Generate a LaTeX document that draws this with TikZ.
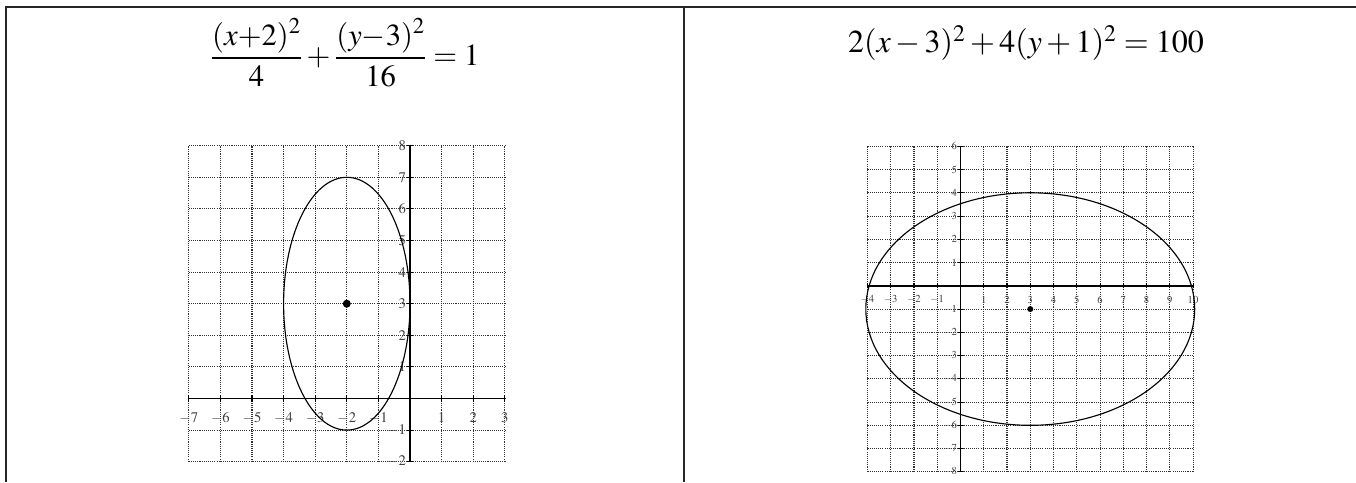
\documentclass[tikz,border=0pt]{standalone}
\usepackage{mathptmx}
\usetikzlibrary{positioning}
\tikzset{
    gridline/.style={line width=0.8pt, black!80, dash pattern=on 0.8pt off 0.8pt},
    axisline/.style={line width=1.1pt},
    tickmark/.style={line width=0.8pt},
    curve/.style={line width=0.85pt},
    tablerule/.style={line width=0.9pt, black!85},
    bigtick/.style={font=\fontsize{11}{12}\selectfont, text=black!75, inner sep=1pt},
    smalltick/.style={font=\fontsize{8}{9}\selectfont, text=black!75, inner sep=1pt},
    formula/.style={font=\fontsize{23}{27}\selectfont, inner sep=0pt},
    centerdot/.style={circle, fill, inner sep=0pt},
}

\begin{document}
\begin{tikzpicture}[x=0.75pt, y=0.75pt]
    \useasboundingbox (0,0) rectangle (1356,482);

    % table rules
    \coordinate (tl) at (6,475);
    \coordinate (bl) at (6,0);
    \coordinate (tr) at (1356,475);
    \coordinate (mt) at (684,475);
    \coordinate (mb) at (684,0);
    \draw[tablerule] (bl) -- (tl) -- (tr);
    \draw[tablerule] (mt) -- (mb);

    % equations
    \node[formula] (eqleft) at (345,429)
        {$\displaystyle\frac{(x{+}2)^2}{4}+\frac{(y{-}3)^2}{16}=1$};
    \node[formula, anchor=base, font=\fontsize{24}{28}\selectfont] (eqright) at (1026,429)
        {$2(x-3)^2+4(y+1)^2=100$};

    % left graph
    \begin{scope}[shift={(410,83.5)}, x=23.7pt, y=23.7pt]
        \foreach \i in {-7,...,3}
            \draw[gridline] (\i,-2) -- (\i,8);
        \foreach \j in {-2,...,8}
            \draw[gridline] (-7,\j) -- (3,\j);
        \draw[axisline] (-7,0) -- (3,0);
        \draw[axisline] (0,-2) -- (0,8);
        \foreach \i in {-7,...,3}
            \draw[tickmark] (\i,-0.1) -- (\i,0.1);
        \foreach \j in {-2,...,8}
            \draw[tickmark] (-0.1,\j) -- (0.1,\j);
        \foreach \i in {-7,...,-1,1,2,3}
            \node[bigtick] (lx\i) at (\i,-0.62) {$\i$};
        \foreach \j in {-2,-1,1,2,3,4,5,6,7,8}
            \node[bigtick, anchor=east] (ly\j) at (-0.08,\j) {$\j$};
        \draw[curve] (-2,3) ellipse [x radius=2, y radius=4];
        \node[centerdot, minimum size=6pt] (lcenter) at (-2,3) {};
    \end{scope}

    % right graph
    \begin{scope}[shift={(960.5,196.2)}, x=17.44pt, y=17.44pt]
        \foreach \i in {-4,...,10}
            \draw[gridline] (\i,-8) -- (\i,6);
        \foreach \j in {-8,...,6}
            \draw[gridline] (-4,\j) -- (10,\j);
        \draw[axisline] (-4,0) -- (10,0);
        \draw[axisline] (0,-8) -- (0,6);
        \foreach \i in {-4,...,10}
            \draw[tickmark] (\i,-0.1) -- (\i,0.1);
        \foreach \j in {-8,...,6}
            \draw[tickmark] (-0.1,\j) -- (0.1,\j);
        \foreach \i in {-4,...,-1,1,2,...,10}
            \node[smalltick] (rx\i) at (\i,-0.6) {$\i$};
        \foreach \j in {-8,...,-1,1,2,...,6}
            \node[smalltick, anchor=east] (ry\j) at (-0.08,\j) {$\j$};
        \draw[curve] (3,-1) ellipse [x radius=7.071, y radius=5];
        \node[centerdot, minimum size=4.5pt] (rcenter) at (3,-1) {};
    \end{scope}
\end{tikzpicture}
\end{document}
